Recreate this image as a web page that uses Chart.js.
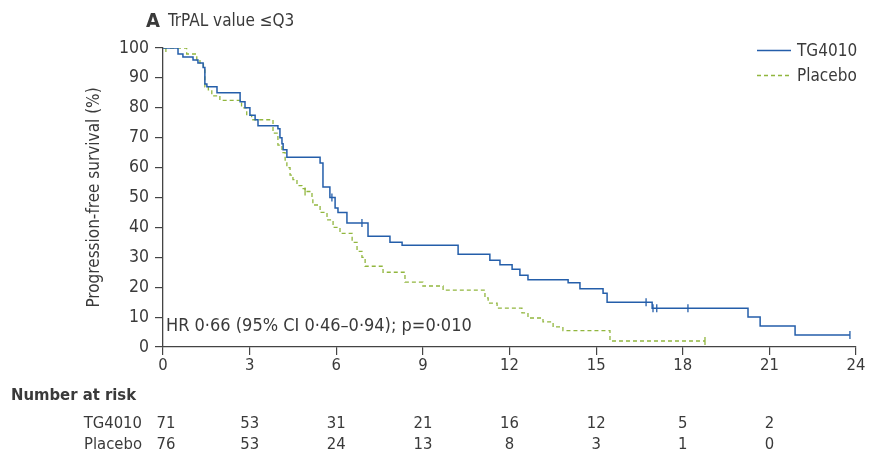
<!DOCTYPE html>
<html>
<head>
<meta charset="utf-8">
<script src="https://cdn.jsdelivr.net/npm/chart.js@4.4.1/dist/chart.umd.min.js"></script>
<style>
  html, body { margin: 0; padding: 0; background: #fff; }
  canvas { display: block; }
</style>
</head>
<body>
<canvas id="km" width="874" height="460"></canvas>
<script>
// TG4010 arm: time of each drop (months) and survival after it (%)
const tgTimes = [0, 0.52, 0.69, 1.04, 1.21, 1.39, 1.45, 1.52, 1.87, 2.67, 2.84, 3.01, 3.19, 3.29, 3.98, 4.05, 4.12, 4.16, 4.29, 5.44, 5.54, 5.78, 5.96, 6.06, 6.37, 7.10, 7.86, 8.28, 10.22, 11.32, 11.67, 12.09, 12.36, 12.64, 14.03, 14.44, 15.24, 15.38, 16.94, 20.26, 20.68, 21.89, 23.79];
const tgSurv  = [100, 98, 97, 96, 95, 93.5, 88, 87, 85, 82, 80, 77.5, 76, 74, 73, 70, 68, 66, 63.5, 61.5, 53.5, 50, 46.5, 45, 41.5, 37, 35, 34, 31, 29, 27.5, 26, 24, 22.5, 21.5, 19.5, 18, 15, 13, 10, 7, 4, 4];
const tgCensorTimes = [5.85, 6.89, 16.73, 16.97, 17.1, 18.18, 23.79];
const tgCensorSurv  = [50, 41.5, 15, 13, 13, 13, 4];

// Placebo arm
const plTimes = [0, 0.82, 1.17, 1.28, 1.40, 1.45, 1.57, 1.69, 1.97, 2.72, 2.90, 3.07, 3.81, 3.98, 4.12, 4.23, 4.29, 4.40, 4.50, 4.64, 4.81, 4.92, 5.16, 5.19, 5.44, 5.68, 5.89, 6.13, 6.55, 6.72, 6.89, 7.00, 7.62, 8.38, 9.00, 9.70, 11.15, 11.26, 11.57, 12.43, 12.64, 13.16, 13.51, 13.85, 15.48, 18.77];
const plSurv  = [100, 98, 96, 95, 93, 87, 86, 84, 82.5, 80, 77.5, 76, 71.5, 67.5, 65, 62.5, 60, 57.5, 56, 54, 53, 52, 50, 47.5, 45, 42.5, 40, 38, 35, 32, 30, 27, 25, 21.7, 20.4, 19, 16.4, 14.7, 13, 11.4, 9.7, 8.4, 6.7, 5.5, 2, 2];
const plCensorTimes = [0.1, 4.92, 18.77];
const plCensorSurv  = [100, 52, 2];

// number at risk table
const riskTimes = [0, 3, 6, 9, 12, 15, 18, 21];
const riskTG = [71, 53, 31, 21, 16, 12, 5, 2];
const riskPl = [76, 53, 24, 13, 8, 3, 1, 0];

const blue = "rgb(36, 94, 170)";
const green = "rgb(145, 182, 62)";
const ink = "#3a3a3a";
const font = "'DejaVu Sans Condensed', 'DejaVu Sans', sans-serif";

function pts(xs, ys){
	return xs.map((x, i) => ({x: x, y: ys[i]}));
}

const extras = {
	id: "extras",
	afterDraw(chart){
		const ctx = chart.ctx;
		const xs = chart.scales.x;
		ctx.save();
		ctx.fillStyle = ink;
		ctx.textBaseline = "alphabetic";

		// panel heading
		ctx.font = "bold 20px " + font;
		ctx.textAlign = "left";
		ctx.fillText("A", 146, 27);
		ctx.font = "17px " + font;
		ctx.fillText("TrPAL value \u2264Q3", 168, 26);

		// hazard ratio
		ctx.font = "18px " + font;
		ctx.fillText("HR 0\u00b766 (95% CI 0\u00b746\u20130\u00b794); p=0\u00b7010", 166, 331);

		// legend
		ctx.font = "17px " + font;
		ctx.fillText("TG4010", 797, 56);
		ctx.fillText("Placebo", 797, 81);
		ctx.lineWidth = 1.3;
		ctx.strokeStyle = blue;
		ctx.beginPath(); ctx.moveTo(757, 50.5); ctx.lineTo(791, 50.5); ctx.stroke();
		ctx.strokeStyle = green;
		ctx.setLineDash([4, 3]);
		ctx.beginPath(); ctx.moveTo(757, 75.5); ctx.lineTo(791, 75.5); ctx.stroke();
		ctx.setLineDash([]);

		// number at risk
		ctx.font = "bold 16.5px " + font;
		ctx.fillText("Number at risk", 11, 400);
		ctx.font = "16.5px " + font;
		ctx.textAlign = "right";
		ctx.fillText("TG4010", 142, 428);
		ctx.fillText("Placebo", 142, 449);
		ctx.textAlign = "center";
		riskTimes.forEach((t, i) => {
			const px = xs.getPixelForValue(t) + (i === 0 ? 3 : 0);
			ctx.fillText(String(riskTG[i]), px, 428);
			ctx.fillText(String(riskPl[i]), px, 449);
		});
		ctx.restore();
	}
};

new Chart(document.getElementById("km").getContext("2d"), {
	type: "line",
	data: {
		datasets: [{
			label: "TG4010",
			data: pts(tgTimes, tgSurv),
			borderColor: blue,
			borderWidth: 1.5,
			stepped: "before",
			pointRadius: 0,
			fill: false
		},{
			label: "Placebo",
			data: pts(plTimes, plSurv),
			borderColor: green,
			borderWidth: 1.3,
			borderDash: [4, 3],
			stepped: "before",
			pointRadius: 0,
			fill: false
		},{
			label: "TG4010 censored",
			data: pts(tgCensorTimes, tgCensorSurv),
			showLine: false,
			pointStyle: "line",
			rotation: 90,
			pointRadius: 4,
			borderColor: blue,
			borderWidth: 1.3
		},{
			label: "Placebo censored",
			data: pts(plCensorTimes, plCensorSurv),
			showLine: false,
			pointStyle: "line",
			rotation: 90,
			pointRadius: 4,
			borderColor: green,
			borderWidth: 1.3
		}]
	},
	options: {
		responsive: false,
		animation: false,
		devicePixelRatio: 1,
		layout: { padding: { left: 0, right: 18, top: 48, bottom: 80 } },
		plugins: {
			legend: { display: false },
			tooltip: { enabled: false }
		},
		scales: {
			x: {
				type: "linear",
				min: 0,
				max: 24,
				afterFit: s => { s.height = 33; },
				ticks: { stepSize: 3, color: ink, font: { family: font, size: 16.5 }, padding: 1, maxRotation: 0 },
				grid: { drawOnChartArea: false, tickLength: 8, color: "#444", lineWidth: 1.2 },
				border: { color: "#444", width: 1.3 }
			},
			y: {
				min: 0,
				max: 100,
				afterFit: s => { s.width = 163; },
				ticks: { stepSize: 10, color: ink, font: { family: font, size: 17.5 }, padding: 6 },
				grid: { drawOnChartArea: false, tickLength: 8, color: "#444", lineWidth: 1.2 },
				border: { color: "#444", width: 1.3 },
				title: {
					display: true,
					text: "Progression-free survival (%)",
					color: ink,
					font: { family: font, size: 17 },
					padding: { top: 84, bottom: 0 }
				}
			}
		}
	},
	plugins: [extras]
});
</script>
</body>
</html>
